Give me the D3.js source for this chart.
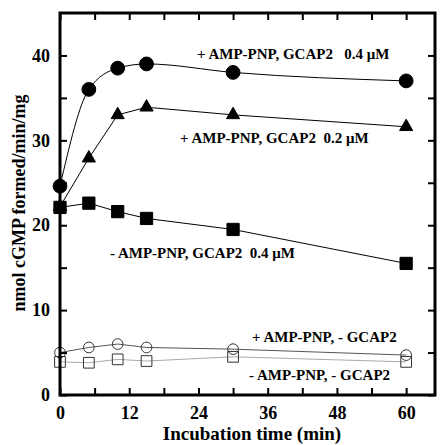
<!DOCTYPE html>
<html>
<head>
<meta charset="utf-8">
<script src="https://cdn.jsdelivr.net/npm/d3@7"></script>
<style>
  body { margin: 0; background: #fff; }
  svg text { font-family: "Liberation Serif", "Times New Roman", serif; font-weight: bold; }
</style>
</head>
<body>
<svg id="chart" width="440" height="445"></svg>
<script>
// time points (min)
const times = [0, 5, 10, 15, 30, 60];

// series values (nmol cGMP formed/min/mg)
const ampGcap04 = [24.6, 36.0, 38.5, 39.0, 38.0, 37.0];
const ampGcap02 = [22.2, 27.9, 33.0, 33.9, 33.0, 31.6];
const noAmpGcap04 = [22.1, 22.6, 21.6, 20.8, 19.5, 15.5];
const ampNoGcap = [5.0, 5.6, 6.0, 5.6, 5.4, 4.7];
const noAmpNoGcap = [3.9, 3.8, 4.2, 4.0, 4.5, 3.9];

const xTicks = [0, 12, 24, 36, 48, 60];
const xMinorTicks = [0, 6, 12, 18, 24, 30, 36, 42, 48, 54, 60];
const yTicks = [0, 10, 20, 30, 40];
const yMinorTicks = [0, 5, 10, 15, 20, 25, 30, 35, 40];

const series = [
    { values: ampGcap04, shape: "circle", filled: true, line: "#000", curve: d3.curveMonotoneX, size: 150,
      label: "+ AMP-PNP, GCAP2\u00a0\u00a0 0.4 \u03bcM", lx: 197, ly: 59 },
    { values: ampGcap02, shape: "triangle", filled: true, line: "#000", curve: d3.curveLinear, size: 75,
      label: "+ AMP-PNP, GCAP2\u00a0 0.2 \u03bcM", lx: 180, ly: 143 },
    { values: noAmpGcap04, shape: "square", filled: true, line: "#000", curve: d3.curveLinear, size: 150,
      label: "- AMP-PNP, GCAP2\u00a0 0.4 \u03bcM", lx: 110, ly: 258 },
    { values: ampNoGcap, shape: "circle", filled: false, line: "#555", curve: d3.curveLinear, size: 90,
      label: "+ AMP-PNP, - GCAP2", lx: 252, ly: 342 },
    { values: noAmpNoGcap, shape: "square", filled: false, line: "#aaa", curve: d3.curveLinear, size: 115,
      label: "- AMP-PNP, - GCAP2", lx: 249, ly: 380 }
];

const svg = d3.select("#chart");
const margin = { left: 60, top: 13, right: 5, bottom: 50 };
const width = 440, height = 445;

const xScale = d3.scaleLinear().domain([0, 65]).range([margin.left, width - margin.right]);
const yScale = d3.scaleLinear().domain([0, 45]).range([395, margin.top]);

// lines
series.forEach(s => {
    const line = d3.line()
        .x((d, i) => xScale(times[i]))
        .y(d => yScale(d))
        .curve(s.curve);
    svg.append("path")
        .datum(s.values)
        .attr("d", line)
        .attr("fill", "none")
        .attr("stroke", s.line)
        .attr("stroke-width", 1);
});

// markers
const symbolType = { circle: d3.symbolCircle, square: d3.symbolSquare, triangle: d3.symbolTriangle };
series.forEach(s => {
    svg.append("g")
        .selectAll("path")
        .data(s.values)
        .join("path")
        .attr("transform", (d, i) => `translate(${xScale(times[i])},${yScale(d)})`)
        .attr("d", d3.symbol().type(symbolType[s.shape]).size(s.size))
        .attr("fill", s.filled ? "#000" : "none")
        .attr("stroke", s.filled ? "#000" : "#333")
        .attr("stroke-width", 1);
});

// series labels
series.forEach(s => {
    svg.append("text")
        .attr("x", s.lx)
        .attr("y", s.ly)
        .attr("font-size", 15)
        .text(s.label);
});

// frame
svg.append("rect")
    .attr("x", xScale(0))
    .attr("y", yScale(45))
    .attr("width", xScale(65) - xScale(0))
    .attr("height", yScale(0) - yScale(45))
    .attr("fill", "none")
    .attr("stroke", "#000")
    .attr("stroke-width", 3);

// bottom axis (ticks inside)
svg.append("g").attr("transform", `translate(0,${yScale(0)})`)
    .call(d3.axisBottom(xScale).tickValues(xMinorTicks).tickSize(-7).tickFormat(""))
    .call(g => g.select(".domain").remove())
    .call(g => g.selectAll("line").attr("stroke-width", 2));
svg.append("g").attr("transform", `translate(0,${yScale(0)})`)
    .call(d3.axisBottom(xScale).tickValues(xTicks).tickSize(0).tickPadding(11))
    .call(g => g.select(".domain").remove())
    .call(g => g.selectAll("text").attr("font-size", 18).attr("fill", "#000"));

// top axis
svg.append("g").attr("transform", `translate(0,${yScale(45)})`)
    .call(d3.axisTop(xScale).tickValues(xMinorTicks).tickSize(-7).tickFormat(""))
    .call(g => g.select(".domain").remove())
    .call(g => g.selectAll("line").attr("stroke-width", 2));

// left axis
svg.append("g").attr("transform", `translate(${xScale(0)},0)`)
    .call(d3.axisLeft(yScale).tickValues(yMinorTicks).tickSize(-7).tickFormat(""))
    .call(g => g.select(".domain").remove())
    .call(g => g.selectAll("line").attr("stroke-width", 2));
svg.append("g").attr("transform", `translate(${xScale(0)},0)`)
    .call(d3.axisLeft(yScale).tickValues(yTicks).tickSize(0).tickPadding(10))
    .call(g => g.select(".domain").remove())
    .call(g => g.selectAll("text").attr("font-size", 18).attr("fill", "#000"));

// right axis
svg.append("g").attr("transform", `translate(${xScale(65)},0)`)
    .call(d3.axisRight(yScale).tickValues(yMinorTicks).tickSize(-7).tickFormat(""))
    .call(g => g.select(".domain").remove())
    .call(g => g.selectAll("line").attr("stroke-width", 2));

// axis titles
svg.append("text")
    .attr("x", 252)
    .attr("y", 440)
    .attr("text-anchor", "middle")
    .attr("font-size", 19)
    .text("Incubation time (min)");

svg.append("text")
    .attr("transform", "translate(25,203) rotate(-90)")
    .attr("text-anchor", "middle")
    .attr("font-size", 18)
    .text("nmol cGMP formed/min/mg");
</script>
</body>
</html>
